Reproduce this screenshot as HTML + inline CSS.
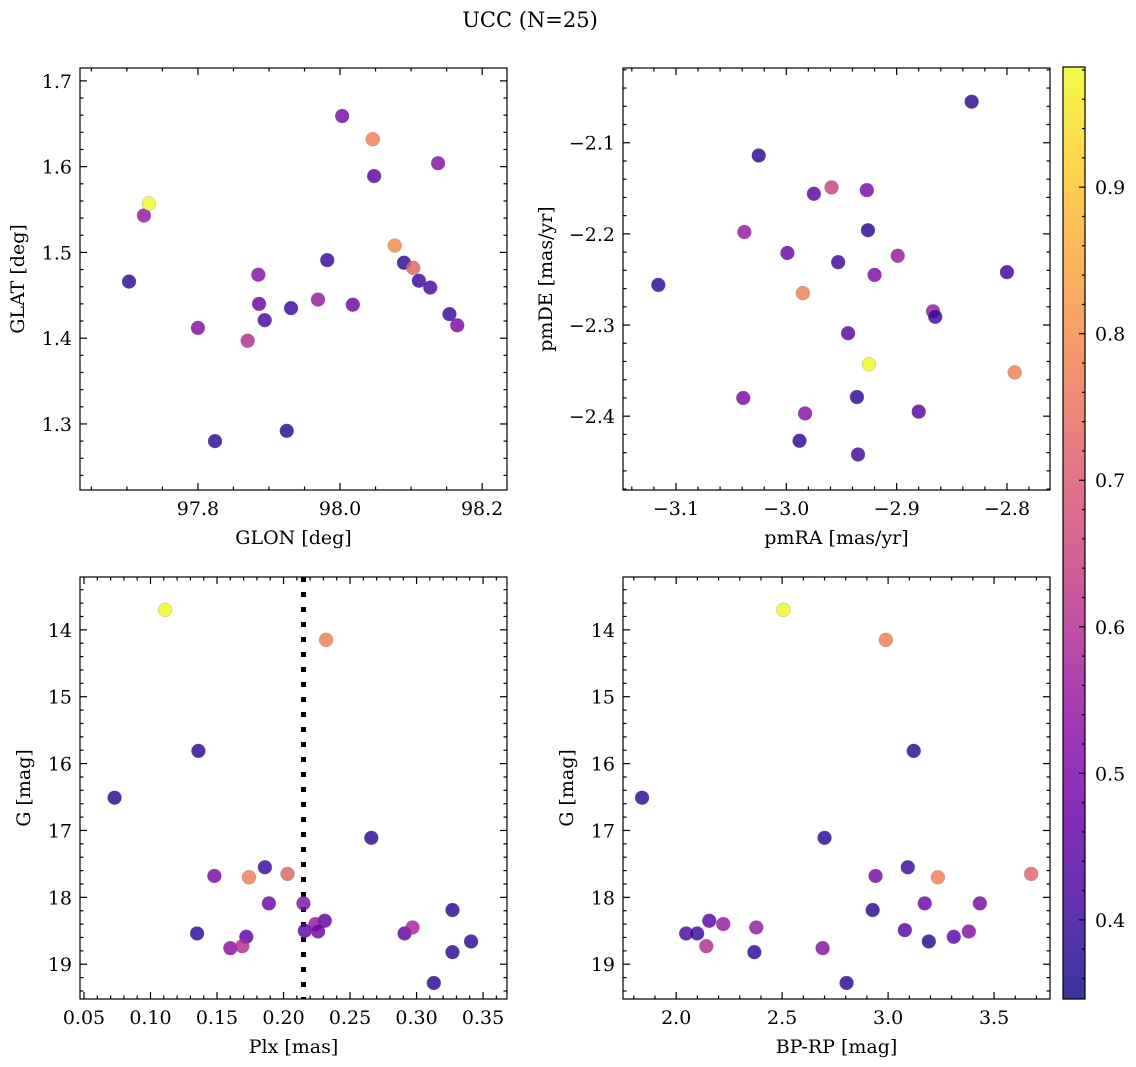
<!DOCTYPE html>
<html><head><meta charset="utf-8"><style>
html,body{margin:0;padding:0;background:#fff;}
svg{display:block;font-family:"DejaVu Serif","Liberation Serif",serif;}
</style></head><body>
<svg id="fig" width="1136" height="1067" viewBox="0 0 1136 1067">
<text x="530" y="27" font-size="21" text-anchor="middle">UCC (N=25)</text>
</svg>
<script>
// Panel 1: GLON vs GLAT
const p1x=[97.703,97.724,97.731,97.800,97.870,97.824,97.885,97.886,97.894,97.925,97.931,97.969,97.982,98.003,98.018,98.046,98.048,98.077,98.090,98.103,98.111,98.127,98.138,98.154,98.165];
const p1y=[1.466,1.543,1.557,1.412,1.397,1.280,1.474,1.440,1.421,1.292,1.435,1.445,1.491,1.659,1.439,1.632,1.589,1.508,1.488,1.482,1.467,1.459,1.604,1.428,1.415];
const p1c=[0.38,0.55,0.98,0.52,0.60,0.38,0.52,0.48,0.42,0.38,0.40,0.55,0.40,0.50,0.48,0.78,0.45,0.80,0.38,0.72,0.40,0.42,0.52,0.40,0.50];
// Panel 2: pmRA vs pmDE
const p2x=[-3.116,-3.025,-3.038,-3.039,-2.999,-2.985,-2.988,-2.983,-2.975,-2.959,-2.953,-2.944,-2.936,-2.935,-2.927,-2.926,-2.925,-2.920,-2.899,-2.880,-2.867,-2.865,-2.832,-2.800,-2.793];
const p2y=[-2.256,-2.114,-2.198,-2.380,-2.221,-2.265,-2.427,-2.397,-2.156,-2.149,-2.231,-2.309,-2.379,-2.442,-2.152,-2.196,-2.343,-2.245,-2.224,-2.395,-2.285,-2.291,-2.055,-2.242,-2.352];
const p2c=[0.38,0.38,0.55,0.50,0.48,0.78,0.38,0.52,0.45,0.65,0.40,0.45,0.38,0.40,0.50,0.38,0.98,0.50,0.55,0.45,0.55,0.40,0.38,0.40,0.78];
// Panel 3: Plx vs G
const p3x=[0.266,0.148,0.174,0.186,0.203,0.189,0.215,0.231,0.224,0.216,0.226,0.135,0.172,0.160,0.169,0.291,0.297,0.327,0.341,0.327,0.313,0.073,0.111,0.136,0.232];
const p3y=[17.11,17.68,17.70,17.55,17.65,18.09,18.09,18.35,18.40,18.50,18.51,18.54,18.59,18.76,18.73,18.54,18.45,18.19,18.66,18.82,19.28,16.51,13.70,15.81,14.15];
const p3c=[0.38,0.50,0.78,0.40,0.72,0.48,0.52,0.45,0.55,0.45,0.48,0.38,0.45,0.52,0.60,0.45,0.58,0.38,0.38,0.38,0.38,0.38,0.98,0.38,0.78];
const plxLine=0.215;
// Panel 4: BP-RP vs G
const p4x=[2.700,2.941,3.093,3.235,3.675,3.173,3.433,2.927,2.047,2.099,2.156,2.222,2.378,2.142,2.369,2.691,2.804,3.079,3.192,3.310,3.381,1.839,2.506,3.121,2.989];
const p4y=[17.11,17.68,17.55,17.70,17.65,18.09,18.09,18.19,18.54,18.54,18.35,18.40,18.45,18.73,18.82,18.76,19.28,18.49,18.66,18.59,18.51,16.51,13.70,15.81,14.15];
const p4c=[0.38,0.50,0.40,0.78,0.72,0.48,0.50,0.38,0.42,0.40,0.45,0.55,0.55,0.60,0.38,0.52,0.38,0.45,0.38,0.45,0.52,0.38,0.98,0.38,0.78];
const cbTicks=[0.4,0.5,0.6,0.7,0.8,0.9];

const NS="http://www.w3.org/2000/svg";
const svg=document.getElementById('fig');
const FS=19;
const VMIN=0.346,VMAX=0.982;
const stops=[[13,8,135],[65,4,157],[106,0,168],[143,13,164],[177,42,144],[204,71,120],[225,100,98],[242,132,75],[252,166,54],[252,206,37],[240,249,33]];
function plasma(t){t=Math.max(0,Math.min(1,t));const f=t*10;const i=Math.min(9,Math.floor(f));const r=f-i;const a=stops[i],b=stops[i+1];return 'rgb('+a.map((v,k)=>Math.round(v+(b[k]-v)*r)).join(',')+')';}
function el(tag,attrs,parent){const e=document.createElementNS(NS,tag);for(const k in attrs)e.setAttribute(k,attrs[k]);(parent||svg).appendChild(e);return e;}
function fmt(v,d){let s=v.toFixed(d);if(v<0)s='\u2212'+s.slice(1);return s;}

function panel(o){
  const sx=v=>o.L+(v-o.x0)/(o.x1-o.x0)*(o.R-o.L);
  const sy=o.yinv?(v=>o.T+(v-o.y0)/(o.y1-o.y0)*(o.B-o.T)):(v=>o.B-(v-o.y0)/(o.y1-o.y0)*(o.B-o.T));
  const g=el('g',{});
  
  
  const tg=el('g',{stroke:'#000','stroke-width':1.2},g);
  const n0=Math.ceil(Math.min(o.x0,o.x1)/o.xmin-1e-6),n1=Math.floor(Math.max(o.x0,o.x1)/o.xmin+1e-6);
  for(let n=n0;n<=n1;n++){const v=n*o.xmin;const px=sx(v);const maj=Math.abs(v/o.xmaj-Math.round(v/o.xmaj))<1e-6;const len=maj?7:3.5;
    el('line',{x1:px,x2:px,y1:o.B,y2:o.B-len},tg);el('line',{x1:px,x2:px,y1:o.T,y2:o.T+len},tg);
    if(maj){const t=el('text',{x:px,y:o.B+25,'font-size':FS,'text-anchor':'middle',stroke:'none',fill:'#000'},g);t.textContent=fmt(v,o.xd);
      
      }}
  const m0=Math.ceil(Math.min(o.y0,o.y1)/o.ymin-1e-6),m1=Math.floor(Math.max(o.y0,o.y1)/o.ymin+1e-6);
  for(let n=m0;n<=m1;n++){const v=n*o.ymin;const py=sy(v);const maj=Math.abs(v/o.ymaj-Math.round(v/o.ymaj))<1e-6;const len=maj?7:3.5;
    el('line',{x1:o.L,x2:o.L+len,y1:py,y2:py},tg);el('line',{x1:o.R,x2:o.R-len,y1:py,y2:py},tg);
    if(maj){const t=el('text',{x:o.L-8,y:py+7,'font-size':FS,'text-anchor':'end',stroke:'none',fill:'#000'},g);t.textContent=fmt(v,o.yd);
      
      }}
  if(o.vline!==undefined){const l=el('line',{x1:sx(o.vline),x2:sx(o.vline),y1:o.T,y2:o.B,stroke:'#000','stroke-width':5,'stroke-dasharray':'5 10'},g);
    
    }
  for(let i=0;i<o.xs.length;i++){
    const c=el('circle',{cx:sx(o.xs[i]),cy:sy(o.ys[i]),r:7,fill:plasma((o.cs[i]-VMIN)/(VMAX-VMIN)),'fill-opacity':0.82,stroke:'#777','stroke-opacity':0.5,'stroke-width':0.5},g);
    
    
  }
  const fr=el('rect',{x:o.L,y:o.T,width:o.R-o.L,height:o.B-o.T,fill:'none',stroke:'#000','stroke-width':1.2},g);
  
  
  const xl=el('text',{x:(o.L+o.R)/2,y:o.B+54,'font-size':FS,'text-anchor':'middle'},g);xl.textContent=o.xlab;
  
  
  const yx=o.ylx,yy=(o.T+o.B)/2;
  const yl=el('text',{x:yx,y:yy,'font-size':FS,'text-anchor':'middle',transform:'rotate(-90 '+yx+' '+yy+')'},g);yl.textContent=o.ylab;
  
  
}
panel({name:'glon-glat-panel',L:80,R:507,T:68,B:490,x0:97.634,x1:98.235,y0:1.223,y1:1.715,xmaj:0.2,xmin:0.05,ymaj:0.1,ymin:0.02,xd:1,yd:1,xs:p1x,ys:p1y,cs:p1c,xlab:'GLON [deg]',ylab:'GLAT [deg]',ylx:24});
panel({name:'pm-panel',L:623,R:1050,T:68,B:490,x0:-3.148,x1:-2.761,y0:-2.481,y1:-2.018,xmaj:0.1,xmin:0.02,ymaj:0.1,ymin:0.02,xd:1,yd:1,xs:p2x,ys:p2y,cs:p2c,xlab:'pmRA [mas/yr]',ylab:'pmDE [mas/yr]',ylx:552});
panel({name:'plx-g-panel',L:80,R:507,T:577,B:999,x0:0.047,x1:0.368,y0:13.21,y1:19.52,yinv:true,xmaj:0.05,xmin:0.01,ymaj:1,ymin:0.2,xd:2,yd:0,xs:p3x,ys:p3y,cs:p3c,xlab:'Plx [mas]',ylab:'G [mag]',ylx:30,vline:plxLine});
panel({name:'bprp-g-panel',L:623,R:1050,T:577,B:999,x0:1.749,x1:3.764,y0:13.21,y1:19.52,yinv:true,xmaj:0.5,xmin:0.1,ymaj:1,ymin:0.2,xd:1,yd:0,xs:p4x,ys:p4y,cs:p4c,xlab:'BP-RP [mag]',ylab:'G [mag]',ylx:573});

const cb=el('g',{});


const defs=el('defs',{},cb);
const grad=el('linearGradient',{id:'pg',x1:0,y1:1,x2:0,y2:0},defs);
for(let i=0;i<=20;i++){el('stop',{offset:i/20,'stop-color':plasma(i/20),'stop-opacity':0.82},grad);}
const CT=67,CB=999,CL=1063,CR=1085;
el('rect',{x:CL,y:CT,width:CR-CL,height:CB-CT,fill:'url(#pg)'},cb);
const cy=v=>CB-(v-VMIN)/(VMAX-VMIN)*(CB-CT);
for(let n=Math.ceil(VMIN/0.02);n<=Math.floor(VMAX/0.02);n++){const v=n*0.02;const maj=Math.abs(v*10-Math.round(v*10))<1e-6;el('line',{x1:CR,x2:CR-(maj?6:3),y1:cy(v),y2:cy(v),stroke:'#000','stroke-width':1.2},cb);}
cbTicks.forEach(v=>{const t=el('text',{x:CR+10,y:cy(v)+7,'font-size':FS},cb);t.textContent=v.toFixed(1);
  
  });
el('rect',{x:CL,y:CT,width:CR-CL,height:CB-CT,fill:'none',stroke:'#000','stroke-width':1.2},cb);
</script>
</body></html>
